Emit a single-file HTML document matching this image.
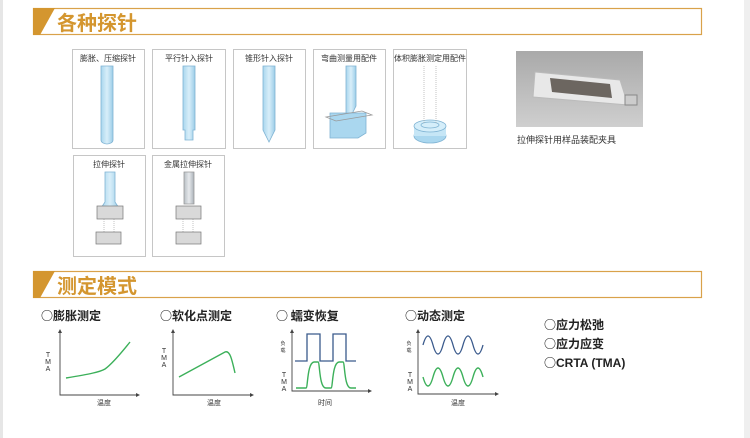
<!DOCTYPE html>
<html><head><meta charset="utf-8"><style>
body{margin:0;background:#fff;}
svg{display:block;font-family:"Liberation Sans","Noto Sans CJK SC",sans-serif;}
</style></head><body>
<svg width="750" height="438" viewBox="0 0 750 438" xmlns="http://www.w3.org/2000/svg">
<rect x="0" y="0" width="3" height="438" fill="#e6e6e6"/>
<rect x="744" y="0" width="6" height="438" fill="#efefef"/>
<!-- header 1 -->
<rect x="33.5" y="8.5" width="668" height="26" fill="#fff" stroke="#d9a24a" stroke-width="1.2"/>
<polygon points="33,8 55,8 40,35 33,35" fill="#d4962f"/>
<text x="57" y="30" font-size="20" font-weight="bold" fill="#d4962f" font-family="'Noto Sans CJK SC',sans-serif">各种探针</text>
<!-- header 2 -->
<rect x="33.5" y="271.5" width="668" height="26" fill="#fff" stroke="#d9a24a" stroke-width="1.2"/>
<polygon points="33,271 55,271 40,298 33,298" fill="#d4962f"/>
<text x="57" y="293" font-size="20" font-weight="bold" fill="#d4962f" font-family="'Noto Sans CJK SC',sans-serif">测定模式</text>

<defs><linearGradient id="g" x1="0" x2="1"><stop offset="0" stop-color="#a9d6ee"/><stop offset="0.5" stop-color="#d8eef9"/><stop offset="1" stop-color="#9ccde8"/></linearGradient>
<linearGradient id="m" x1="0" x2="1"><stop offset="0" stop-color="#b8bfc5"/><stop offset="0.5" stop-color="#e6e9ec"/><stop offset="1" stop-color="#aab1b8"/></linearGradient>
<linearGradient id="ph" x1="0" y1="0" x2="0" y2="1"><stop offset="0" stop-color="#a9a9a9"/><stop offset="1" stop-color="#cfcfcf"/></linearGradient></defs>
<g stroke="#c6c6c6" fill="#fff">
<rect x="72.5" y="49.5" width="72" height="99"/>
<rect x="152.5" y="49.5" width="73" height="99"/>
<rect x="233.5" y="49.5" width="72" height="99"/>
<rect x="313.5" y="49.5" width="72" height="99"/>
<rect x="393.5" y="49.5" width="73" height="99"/>
<rect x="73.5" y="155.5" width="72" height="101"/>
<rect x="152.5" y="155.5" width="72" height="101"/>
</g>
<g font-size="8" fill="#333" text-anchor="middle">
<text x="108" y="61">膨胀、压缩探针</text>
<text x="189" y="61">平行针入探针</text>
<text x="269" y="61">锥形针入探针</text>
<text x="349" y="61">弯曲测量用配件</text>
<text x="430" y="61">体积膨胀测定用配件</text>
<text x="109" y="167">拉伸探针</text>
<text x="188" y="167">金属拉伸探针</text>
</g>
<g stroke="#7fb3d3" stroke-width="0.8">
<path d="M101,66 h12 v74 a6,4 0 0 1 -12,0 z" fill="url(#g)"/>
<path d="M183,66 h12 v64 h-2 v10 h-8 v-10 h-2 z" fill="url(#g)"/>
<path d="M263,66 h12 v64 l-6,12 l-6,-12 z" fill="url(#g)"/>
<path d="M346,66 h10 v40 l-4,8 h-6 z" fill="url(#g)"/>
<path d="M330,113 l36,0 v20 l-8,5 h-28 z" fill="#aad7ef"/>
<path d="M326,117 l36,-6 l10,4 l-36,6 z" fill="none" stroke="#999"/>
<ellipse cx="430" cy="136" rx="16" ry="7" fill="#aad7ef"/>
<rect x="414" y="126" width="32" height="10" fill="#c6e6f6" stroke="none"/>
<ellipse cx="430" cy="126" rx="16" ry="6" fill="#d5eefa"/>
<ellipse cx="430" cy="125" rx="9" ry="3" fill="none"/>
<path d="M105,172 h10 v30 l4,6 h-18 l4,-6 z" fill="url(#g)"/>
<path d="M184,172 h10 v32 h-10 z" fill="url(#m)" stroke="#999"/>
</g>
<g stroke="#aaa" stroke-dasharray="1,1" stroke-width="0.7"><line x1="424" y1="66" x2="424" y2="124"/><line x1="436" y1="66" x2="436" y2="124"/>
<line x1="104" y1="219" x2="104" y2="232"/><line x1="114" y1="219" x2="114" y2="232"/><line x1="183" y1="219" x2="183" y2="232"/><line x1="193" y1="219" x2="193" y2="232"/></g>
<g fill="#d9d9d9" stroke="#777" stroke-width="0.7">
<rect x="97" y="206" width="26" height="13"/><rect x="96" y="232" width="25" height="12"/>
<rect x="176" y="206" width="25" height="13"/><rect x="176" y="232" width="25" height="12"/>
</g>
<!-- photo -->
<rect x="516" y="51" width="127" height="76" fill="url(#ph)"/>
<path d="M535,72 l85,8 l8,25 l-95,-8 z" fill="#e8e8e8" stroke="#bbb"/>
<path d="M550,78 l60,6 l2,14 l-60,-6 z" fill="#6c6660"/>
<rect x="625" y="95" width="12" height="10" fill="#ccc" stroke="#888"/>
<text x="517" y="143" font-size="9" fill="#333">拉伸探针用样品装配夹具</text>

<!-- mode titles -->
<g font-size="12" font-weight="bold" fill="#222" font-family="'Noto Sans CJK SC',sans-serif">
<text x="41" y="320">○膨胀测定</text>
<text x="160" y="320">○软化点测定</text>
<text x="276" y="320">○ 蠕变恢复</text>
<text x="405" y="320">○动态测定</text>
<text x="544" y="329">○应力松弛</text>
<text x="544" y="348">○应力应变</text>
<text x="544" y="367">○<tspan font-family="'Liberation Sans',sans-serif">CRTA (TMA)</tspan></text>
</g>
<!-- axes -->
<g stroke="#444" stroke-width="0.9" fill="none">
<path d="M60,332 v63 h78"/><path d="M173,332 v63 h79"/><path d="M292,332 v59 h78"/><path d="M418,332 v62 h79"/>
</g>
<g fill="#444">
<polygon points="58,333 60,329 62,333"/><polygon points="136,393 140,395 136,397"/>
<polygon points="171,333 173,329 175,333"/><polygon points="250,393 254,395 250,397"/>
<polygon points="290,333 292,329 294,333"/><polygon points="368,389 372,391 368,393"/>
<polygon points="416,333 418,329 420,333"/><polygon points="495,392 499,394 495,396"/>
</g>
<g font-size="7" fill="#333" text-anchor="middle">
<text x="48" y="357">T</text><text x="48" y="364">M</text><text x="48" y="371">A</text>
<text x="164" y="353">T</text><text x="164" y="360">M</text><text x="164" y="367">A</text>
<text x="284" y="377">T</text><text x="284" y="384">M</text><text x="284" y="391">A</text>
<text x="410" y="377">T</text><text x="410" y="384">M</text><text x="410" y="391">A</text>
<text x="104" y="405">温度</text><text x="214" y="405">温度</text><text x="325" y="405">时间</text><text x="458" y="405">温度</text>
</g>
<g font-size="5" fill="#333" text-anchor="middle"><text x="283" y="345">负</text><text x="283" y="352">载</text><text x="409" y="345">负</text><text x="409" y="352">载</text></g>
<g fill="none" stroke="#3cb05a" stroke-width="1.4">
<path d="M66,378 C90,374 100,372 105,369 C112,364 122,352 130,342"/>
<path d="M179,377 L225,352 C230,350 232,360 235,373"/>
<path d="M296,388 H306 C308,388 307,363 314,362 H318 C320,362 319,388 326,388 H331 C333,388 332,363 339,362 H343 C345,362 344,388 351,388 H356"/>
<path d="M423,377 Q428,395 433,377 T443,377 T453,377 T463,377 T473,377 T483,377"/>
</g>
<g fill="none" stroke="#3a5a8c" stroke-width="1.3">
<path d="M295,361 H307 V334 H320 V361 H333 V334 H346 V361 H356"/>
<path d="M423,345 Q428,327 433,345 T443,345 T453,345 T463,345 T473,345 T483,345"/>
</g>
</svg>
</body></html>
